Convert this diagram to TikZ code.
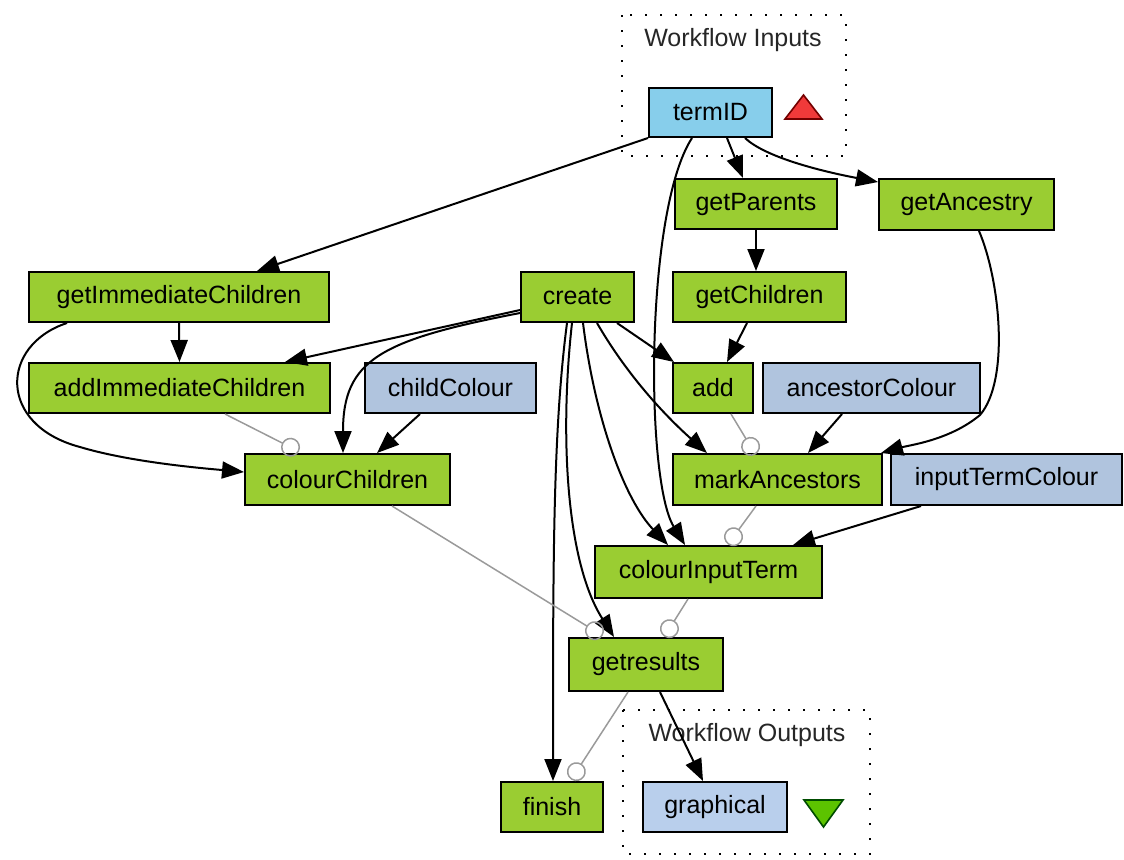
\documentclass[tikz,border=0pt]{standalone}
\usepackage{fontspec}
\setmainfont{Liberation Sans}
\usetikzlibrary{arrows.meta,calc}
\definecolor{procgreen}{HTML}{9ACD32}
\definecolor{portblue}{HTML}{B0C4DE}
\definecolor{inblue}{HTML}{87CEEB}
\definecolor{outblue}{HTML}{B9CFEC}
\definecolor{ctrlgray}{HTML}{9A9A9A}
\definecolor{upred}{HTML}{F03A3A}
\definecolor{downgreen}{HTML}{5CC300}
\begin{document}
\begin{tikzpicture}[x=0.5pt,y=-0.5pt,
  box/.style={draw=black,line width=1pt,inner sep=0pt,
    font=\fontsize{12.5}{14}\selectfont},
  sz/.style 2 args={minimum width=#1*0.5pt,minimum height=#2*0.5pt},
  proc/.style={box,fill=procgreen},
  port/.style={box,fill=portblue},
  inport/.style={box,fill=inblue},
  outport/.style={box,fill=outblue},
  flow/.style={draw=black,line width=1pt,-{Triangle[length=11pt,width=8.5pt]}},
  ctrl/.style={draw=ctrlgray,line width=0.75pt,-{Circle[open,length=9.5pt]}},
  cluster/.style={draw=black,line width=1pt,dash pattern=on 1pt off 6.5pt},
  clusterlabel/.style={font=\fontsize{12.5}{14}\selectfont,text=black!85},
  ]
\useasboundingbox (0,0) rectangle (1124,859);

% input / output groups
\draw[cluster] (622,15) rectangle (846,156);
\node[clusterlabel] (inlabel) at (733,40) {Workflow Inputs};
\draw[cluster] (623,710) rectangle (870,854);
\node[clusterlabel] (outlabel) at (747,735) {Workflow Outputs};

% port markers
\draw[fill=upred,draw=red!45!black,line width=0.8pt] (785,119) -- (822,119) -- (803.5,95) -- cycle;
\draw[fill=downgreen,draw=green!30!black,line width=0.8pt] (804,800) -- (843,800) -- (823.5,827) -- cycle;

% processors and ports
\node[inport,sz={123}{49}]  (termID)   at (710.5,112.5) {termID};
\node[proc,sz={162}{50}]    (getParents) at (756,204) {getParents};
\node[proc,sz={175}{51}]    (getAncestry) at (966.5,204.5) {getAncestry};
\node[proc,sz={300}{50}]    (getImmediateChildren) at (179,297) {getImmediateChildren};
\node[proc,sz={113}{50}]    (create)   at (577.5,297) {create};
\node[proc,sz={173}{50}]    (getChildren) at (759.5,297) {getChildren};
\node[proc,sz={301}{50}]    (addImmediateChildren) at (179.5,388) {addImmediateChildren};
\node[port,sz={171}{50}]    (childColour) at (450.5,388) {childColour};
\node[proc,sz={80}{50}]     (add)      at (713,388) {add};
\node[port,sz={217}{50}]    (ancestorColour) at (871.5,388) {ancestorColour};
\node[proc,sz={205}{51}]    (colourChildren) at (347.5,479.5) {colourChildren};
\node[proc,sz={209}{51}]    (markAncestors) at (777.5,479.5) {markAncestors};
\node[port,sz={231}{51}]    (inputTermColour) at (1006.5,479.5) {inputTermColour};
\node[proc,sz={227}{52}]    (colourInputTerm) at (708.5,572) {colourInputTerm};
\node[proc,sz={154}{53}]    (getresults) at (646,664.5) {getresults};
\node[proc,sz={102}{50}]    (finish)   at (552,807) {finish};
\node[outport,sz={144}{50}] (graphical) at (715,807) {graphical};

% data links
\draw[flow] (termID.south west) -- ($(getImmediateChildren.north)+(78,0)$);
\draw[flow] ($(termID.south)+(16.5,0)$) -- ($(getParents.north)+(-13,0)$);
\draw[flow] ($(termID.south)+(34.5,0)$) .. controls (765,157) and (820,171) .. ($(getAncestry.north west)+(0,4)$);
\draw[flow] ($(termID.south)+(-18.5,0)$) .. controls (645,210) and (645,480) .. ($(colourInputTerm.north)+(-23.5,0)$);
\draw[flow] (getParents.south) -- (getParents.south |- getChildren.north);
\draw[flow] ($(getAncestry.south)+(12.5,0)$) .. controls (1000,280) and (1010,380) .. (980,415)
  .. controls (950,440) and (910,445) .. ($(markAncestors.north east)+(-2,0)$);
\draw[flow] (getImmediateChildren.south) -- (addImmediateChildren.north);
\draw[flow] ($(getImmediateChildren.south west)+(39,0)$) .. controls (0,345) and (-3,425) .. (80,447)
  .. controls (130,462) and (200,468) .. ($(colourChildren.west)+(0,-7.5)$);
\draw[flow] ($(create.west)+(0,13)$) -- ($(addImmediateChildren.north)+(105.5,0)$);
\draw[flow] ($(create.west)+(0,16)$) .. controls (380,340) and (343,360) .. ($(colourChildren.north)+(-4.5,0)$);
\draw[flow] ($(create.south)+(39.5,0)$) -- ($(add.north west)+(2,0)$);
\draw[flow] ($(create.south)+(19.5,0)$) .. controls (630,380) and (670,420) .. ($(markAncestors.north)+(-70.5,0)$);
\draw[flow] ($(create.south)+(5.5,0)$) .. controls (595,420) and (625,500) .. ($(colourInputTerm.north)+(-40.5,0)$);
\draw[flow] ($(create.south)+(-5.5,0)$) .. controls (560,430) and (565,560) .. ($(getresults.north)+(-32,0)$);
\draw[flow] ($(create.south)+(-10.5,0)$) .. controls (553,430) and (553,560) .. ($(finish.north)+(1,0)$);
\draw[flow] ($(getChildren.south)+(-12.5,0)$) -- ($(add.north)+(14,0)$);
\draw[flow] ($(childColour.south)+(-30.5,0)$) -- ($(colourChildren.north)+(29.5,0)$);
\draw[flow] ($(ancestorColour.south)+(-29.5,0)$) -- ($(markAncestors.north)+(30.5,0)$);
\draw[flow] ($(inputTermColour.south)+(-85.5,0)$) -- ($(colourInputTerm.north)+(84.5,0)$);
\draw[flow] ($(getresults.south)+(14,0)$) -- ($(graphical.north)+(-12,0)$);

% control links
\draw[ctrl] ($(addImmediateChildren.south)+(45.5,0)$) -- ($(colourChildren.north)+(-48.5,-1.5)$);
\draw[ctrl] ($(add.south)+(18,0)$) -- ($(markAncestors.north)+(-22,1.5)$);
\draw[ctrl] ($(markAncestors.south)+(-21.5,0)$) -- ($(colourInputTerm.north)+(19.4,-0.6)$);
\draw[ctrl] ($(colourChildren.south)+(44.5,0)$) -- ($(getresults.north)+(-43.4,-1.3)$);
\draw[ctrl] ($(colourInputTerm.south)+(-20.5,0)$) -- ($(getresults.north)+(18.4,-0.3)$);
\draw[ctrl] ($(getresults.south)+(-18,0)$) -- ($(finish.north)+(19.2,-1.4)$);
\end{tikzpicture}
\end{document}
